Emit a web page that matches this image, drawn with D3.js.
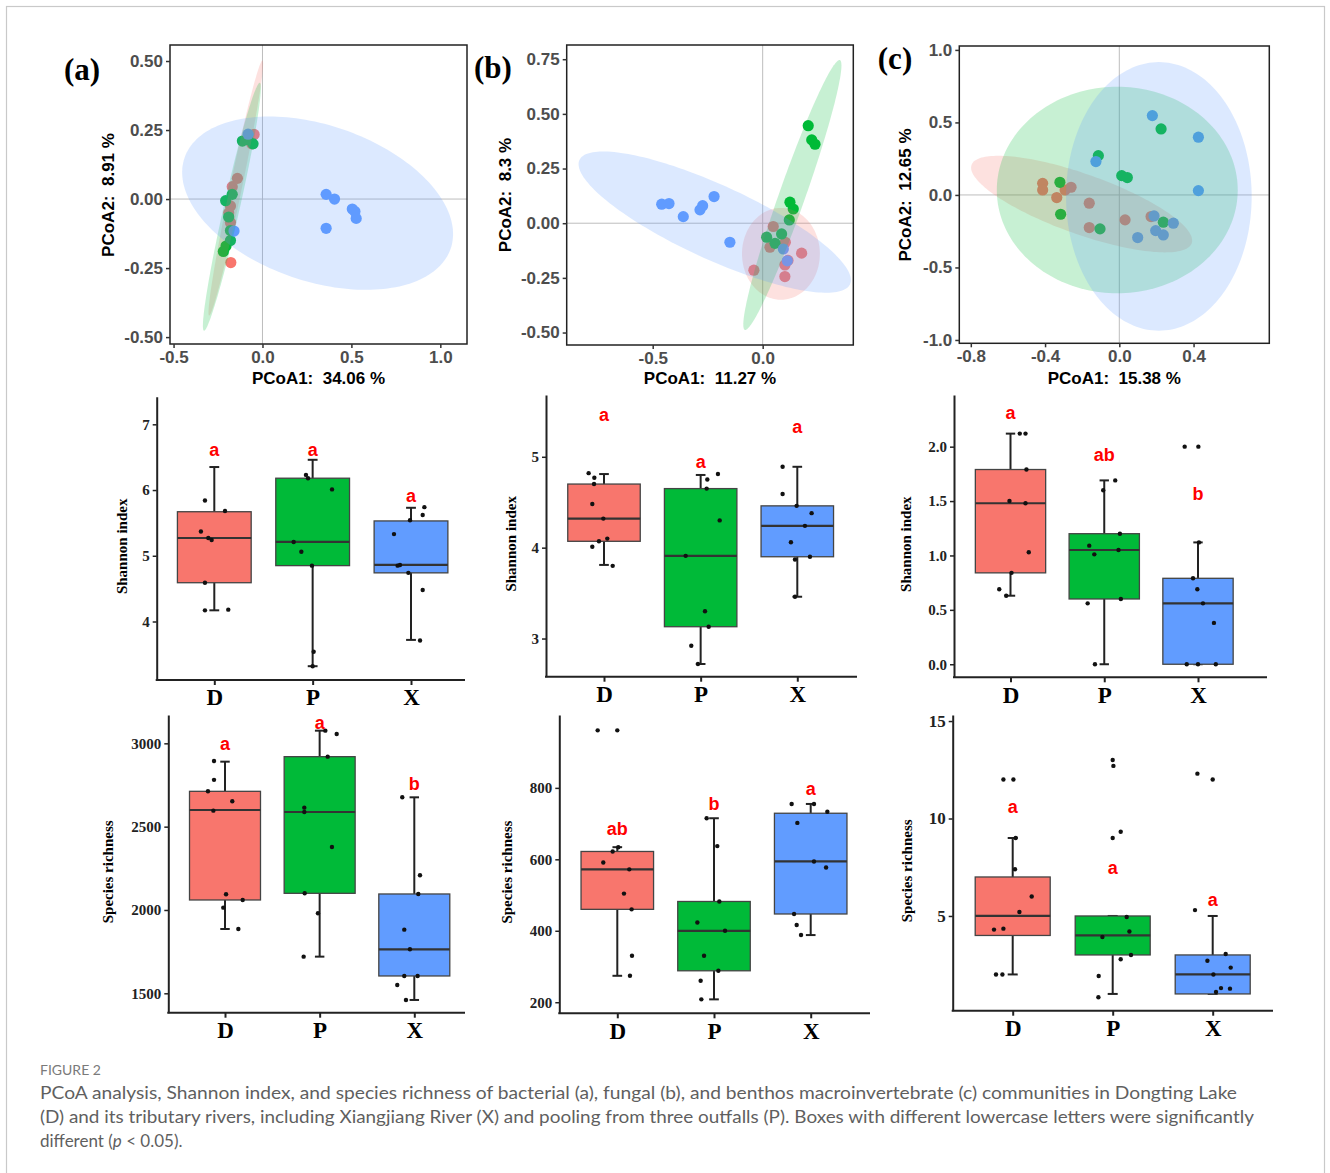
<!DOCTYPE html>
<html>
<head>
<meta charset="utf-8">
<script src="https://d3js.org/d3.v7.min.js"></script>
<style>
body { margin: 0; background: #fff; }
svg { display: block; }
</style>
</head>
<body>
<svg id="fig" width="1330" height="1173"></svg>
<script>
// groups and colours
var groups = ["D", "P", "X"];
var groupColors = ["#F8766D", "#00BA38", "#619CFF"];

// ---- PCoA scores (PCoA1, PCoA2) ----
// (a) bacteria
var pcoaA_D = [[-0.047, 0.234], [-0.06, 0.2], [-0.141, 0.075], [-0.17, 0.045], [-0.18, -0.025], [-0.19, -0.05], [-0.18, -0.085], [-0.178, -0.23]];
var pcoaA_P = [[-0.113, 0.21], [-0.053, 0.2], [-0.085, 0.215], [-0.17, 0.017], [-0.207, -0.006], [-0.19, -0.065], [-0.18, -0.114], [-0.18, -0.15], [-0.205, -0.17], [-0.22, -0.19]];
var pcoaA_X = [[-0.081, 0.235], [-0.16, -0.116], [0.358, 0.017], [0.405, 0.0], [0.505, -0.036], [0.52, -0.045], [0.527, -0.07], [0.358, -0.106]];
// (b) fungi
var pcoaB_D = [[0.048, -0.015], [0.033, -0.11], [0.103, -0.087], [0.101, -0.191], [0.177, -0.137], [-0.04, -0.215], [0.101, -0.244], [0.115, -0.17]];
var pcoaB_P = [[0.207, 0.446], [0.223, 0.381], [0.238, 0.361], [0.124, 0.096], [0.139, 0.065], [0.121, 0.015], [0.018, -0.064], [0.086, -0.049], [0.056, -0.092]];
var pcoaB_X = [[-0.459, 0.087], [-0.426, 0.09], [-0.361, 0.03], [-0.285, 0.061], [-0.273, 0.08], [-0.221, 0.122], [-0.149, -0.087], [0.094, -0.118], [0.112, -0.172]];
// (c) benthos
var pcoaC_D = [[-0.413, 0.08], [-0.413, 0.034], [-0.337, -0.018], [-0.292, 0.034], [-0.26, 0.053], [-0.162, -0.057], [-0.162, -0.225], [0.031, -0.172], [0.171, -0.149]];
var pcoaC_P = [[0.225, 0.455], [-0.113, 0.271], [0.013, 0.133], [0.043, 0.12], [-0.32, 0.087], [-0.316, -0.133], [-0.104, -0.234], [0.237, -0.188]];
var pcoaC_X = [[0.178, 0.547], [0.426, 0.398], [0.426, 0.03], [-0.126, 0.23], [0.187, -0.145], [0.196, -0.246], [0.237, -0.276], [0.291, -0.195], [0.099, -0.294]];

// confidence ellipses: centre, then two conjugate semi-axis vectors (data units)
var ellA = [[-0.15, 0.04, 0.15, 0.462, 0.033, -0.0045], [-0.172, -0.028, 0.157, 0.449, 0.044, -0.0063], [0.31, -0.015, 0.748, -0.165, -0.1435, -0.267]];
var ellB = [[0.083, -0.14, 0.177, 0, 0, -0.21], [0.135, 0.129, 0.216, 0.617, 0.056, -0.0197], [-0.218, 0.005, 0.615, -0.284, -0.07, -0.154]];
var ellC = [[-0.203, -0.063, 0.593, -0.27, -0.054, -0.195], [-0.011, 0.034, 0.649, 0, 0, 0.712], [0.213, -0.01, 0.5, 0, 0, 0.926]];

var pcoaTitles = [["PCoA1:  34.06 %", "PCoA2:  8.91 %"], ["PCoA1:  11.27 %", "PCoA2:  8.3 %"], ["PCoA1:  15.38 %", "PCoA2:  12.65 %"]];
var pcoaXTicks = [[-0.5, 0, 0.5, 1.0], [-0.5, 0.0], [-0.8, -0.4, 0, 0.4]];
var pcoaYTicks = [[-0.5, -0.25, 0, 0.25, 0.5], [-0.5, -0.25, 0, 0.25, 0.5, 0.75], [-1, -0.5, 0, 0.5, 1]];

// ---- box plots: [lower whisker, q1, median, q3, upper whisker] ----
var shanA = [[4.17, 4.59, 5.27, 5.67, 6.35], [3.32, 4.85, 5.21, 6.18, 6.46], [3.72, 4.74, 4.86, 5.53, 5.73]];
var shanB = [[3.81, 4.07, 4.32, 4.70, 4.81], [2.72, 3.13, 3.91, 4.65, 4.80], [3.46, 3.90, 4.24, 4.46, 4.89]];
var shanC = [[0.63, 0.84, 1.48, 1.79, 2.12], [0, 0.60, 1.05, 1.20, 1.69], [0, 0, 0.56, 0.79, 1.12]];
var richA = [[1886, 2060, 2600, 2712, 2890], [1720, 2100, 2588, 2920, 3076], [1460, 1604, 1764, 2096, 2676]];
var richB = [[274, 460, 572, 622, 634], [208, 288, 400, 482, 715], [388, 447, 594, 729, 755]];
var richC = [[2, 4, 5, 7, 9], [1, 3, 4, 5, 5], [1, 1, 2, 3, 5]];

// sample values [value, jitter in category steps]
var shanA_pts = [
	[[5.84, -0.095], [5.68, 0.109], [5.37, -0.136], [5.27, -0.061], [5.24, -0.027], [4.59, -0.095], [4.17, -0.095], [4.18, 0.142]],
	[[6.23, -0.068], [6.18, -0.047], [6.01, 0.197], [5.21, -0.193], [5.06, -0.115], [4.85, -0.007], [3.54, 0.01], [3.32, 0.0]],
	[[5.33, -0.173], [5.74, 0.136], [5.62, 0.119], [5.54, -0.01], [4.85, -0.136], [4.86, -0.112], [4.74, -0.027], [4.48, 0.119], [3.71, 0.092]]];
var shanB_pts = [
	[[4.82, -0.159], [4.77, -0.1], [4.70, -0.103], [4.48, -0.121], [4.32, -0.007], [4.10, 0.034], [4.07, -0.052], [4.01, -0.121], [3.80, 0.09]],
	[[4.75, 0.069], [4.81, 0.179], [4.65, 0.062], [4.30, 0.197], [3.91, -0.155], [3.30, 0.045], [3.13, 0.083], [2.92, -0.097], [2.72, -0.028]],
	[[4.89, -0.152], [4.59, -0.152], [4.46, -0.007], [4.38, 0.148], [4.24, 0.079], [4.06, -0.066], [3.87, -0.024], [3.90, 0.131], [3.46, -0.024]]];
var shanC_pts = [
	[[2.12, 0.099], [2.12, 0.16], [1.79, 0.17], [1.50, -0.011], [1.48, 0.16], [1.03, 0.195], [0.84, 0.011], [0.69, -0.12], [0.63, -0.046]],
	[[1.69, 0.117], [1.60, -0.011], [1.20, 0.167], [1.09, -0.16], [1.01, -0.106], [1.05, 0.152], [0.56, -0.177], [0.60, 0.177], [0.0, -0.099]],
	[[2.0, -0.142], [2.0, 0.004], [1.12, 0.01], [0.79, -0.053], [0.69, -0.007], [0.56, 0.053], [0.38, 0.17], [0, -0.12], [0, 0.0], [0, 0.19]]];
var richA_pts = [
	[[2894, -0.116], [2781, -0.116], [2712, -0.18], [2652, 0.077], [2596, -0.123], [2094, 0.011], [2060, 0.187], [2014, -0.018], [1886, 0.141]],
	[[3056, 0.18], [3076, 0.06], [2920, 0.085], [2614, -0.162], [2588, -0.162], [2378, 0.13], [2100, -0.158], [1980, -0.018], [1720, -0.169]],
	[[2676, -0.127], [2208, 0.06], [2096, 0.042], [1882, -0.106], [1764, -0.046], [1604, -0.106], [1604, 0.035], [1550, -0.18], [1460, -0.088]]];
var richB_pts = [
	[[961, -0.203], [961, 0], [634, 0.01], [622, -0.048], [591, -0.145], [572, 0.124], [504, 0.069], [460, 0.148], [330, 0.152], [274, 0.131]],
	[[715, -0.076], [637, 0.034], [482, 0.055], [423, -0.172], [400, 0.114], [330, -0.103], [288, 0.045], [260, -0.138], [208, -0.131]],
	[[755, -0.197], [755, 0.034], [733, 0.172], [702, -0.138], [594, 0.034], [577, 0.159], [447, -0.172], [416, -0.145], [388, -0.1]]];
var richC_pts = [
	[[12, -0.093], [12, 0.007], [9, 0.03], [7.4, 0.023], [6, 0.19], [5.2, 0.067], [4.35, -0.093], [4.3, -0.187], [2, -0.167], [2, -0.103]],
	[[13, 0], [12.7, 0.007], [9, 0], [9.32, 0.08], [4.95, 0.14], [4.2, 0.167], [3.92, -0.103], [3, 0.183], [2.78, 0.08], [1.92, -0.14], [0.83, -0.143]],
	[[12.3, -0.153], [12, 0], [5.3, -0.177], [3.05, 0.13], [2.7, -0.053], [2.35, 0.18], [2, 0.007], [1.3, 0.083], [1.27, 0.173], [1.1, 0.033]]];

// significance letters and the value they sit at
var lettersShan = [["a", "a", "a"], ["a", "a", "a"], ["a", "ab", "b"]];
var letterYShan = [[6.61, 6.61, 5.91], [5.46, 4.95, 5.33], [2.31, 1.93, 1.57]];
var lettersRich = [["a", "a", "b"], ["ab", "b", "a"], ["a", "a", "a"]];
var letterYRich = [[2998, 3122, 2756], [685, 755, 799], [10.6, 7.5, 5.82]];

var captionLines = [
	"PCoA analysis, Shannon index, and species richness of bacterial (a), fungal (b), and benthos macroinvertebrate (c) communities in Dongting Lake",
	"(D) and its tributary rivers, including Xiangjiang River (X) and pooling from three outfalls (P). Boxes with different lowercase letters were significantly"
];

var svg = d3.select("#fig");
var SANS = "'Liberation Sans', Arial, sans-serif";
var SERIF = "'Liberation Serif', 'Times New Roman', serif";

function fmt(f) {
	return function (v) { return d3.format(f)(v).replace("\u2212", "-"); };
}

// frame round the figure
svg.append("rect")
	.attr("x", 6.5).attr("y", 6.5)
	.attr("width", 1318).attr("height", 1200)
	.attr("fill", "none")
	.attr("stroke", "#c9c9c9")
	.attr("stroke-width", 1.2);

function drawPcoa(cfg) {
	var x = d3.scaleLinear().domain(cfg.xDom).range([cfg.x0, cfg.x1]);
	var y = d3.scaleLinear().domain(cfg.yDom).range([cfg.y1, cfg.y0]);
	var g = svg.append("g");

	g.append("clipPath").attr("id", "clip" + cfg.id)
		.append("rect")
		.attr("x", cfg.x0).attr("y", cfg.y0)
		.attr("width", cfg.x1 - cfg.x0).attr("height", cfg.y1 - cfg.y0);
	var inner = g.append("g").attr("clip-path", "url(#clip" + cfg.id + ")");

	// zero lines
	inner.append("line")
		.attr("x1", x(0)).attr("x2", x(0)).attr("y1", cfg.y0).attr("y2", cfg.y1)
		.attr("stroke", "#bdbdbd").attr("stroke-width", 1);
	inner.append("line")
		.attr("x1", cfg.x0).attr("x2", cfg.x1).attr("y1", y(0)).attr("y2", y(0))
		.attr("stroke", "#bdbdbd").attr("stroke-width", 1);

	cfg.points.forEach(function (pts, i) {
		inner.selectAll(null).data(pts).enter().append("circle")
			.attr("cx", function (d) { return x(d[0]); })
			.attr("cy", function (d) { return y(d[1]); })
			.attr("r", 5.6)
			.attr("fill", groupColors[i]);
	});

	var line = d3.line().curve(d3.curveLinearClosed);
	var ts = d3.range(0, 2 * Math.PI, Math.PI / 90);
	cfg.ellipses.forEach(function (e, i) {
		var pts = ts.map(function (t) {
			return [x(e[0] + e[2] * Math.cos(t) + e[4] * Math.sin(t)),
				y(e[1] + e[3] * Math.cos(t) + e[5] * Math.sin(t))];
		});
		inner.append("path")
			.attr("d", line(pts))
			.attr("fill", groupColors[i])
			.attr("fill-opacity", 0.22)
			.attr("stroke", "none");
	});

	g.append("rect")
		.attr("x", cfg.x0).attr("y", cfg.y0)
		.attr("width", cfg.x1 - cfg.x0).attr("height", cfg.y1 - cfg.y0)
		.attr("fill", "none").attr("stroke", "#222").attr("stroke-width", 1.5);

	var ax = g.append("g")
		.attr("transform", "translate(0," + cfg.y1 + ")")
		.call(d3.axisBottom(x).tickValues(cfg.xTicks).tickFormat(fmt(".1f")).tickSize(4).tickPadding(3));
	var ay = g.append("g")
		.attr("transform", "translate(" + cfg.x0 + ",0)")
		.call(d3.axisLeft(y).tickValues(cfg.yTicks).tickFormat(fmt(cfg.yFmt)).tickSize(4).tickPadding(3));
	[ax, ay].forEach(function (a) {
		a.select(".domain").remove();
		a.selectAll(".tick line").attr("stroke", "#333").attr("stroke-width", 1.5);
		a.selectAll(".tick text")
			.attr("fill", "#4d4d4d")
			.style("font-family", SANS)
			.style("font-weight", "bold")
			.style("font-size", "17px");
	});

	g.append("text")
		.attr("x", (cfg.x0 + cfg.x1) / 2).attr("y", 378).attr("dy", "0.35em")
		.attr("text-anchor", "middle")
		.style("white-space", "pre")
		.style("font-family", SANS).style("font-weight", "bold").style("font-size", "17px")
		.text(cfg.titles[0]);
	g.append("text")
		.attr("transform", "translate(" + cfg.yLabX + ",195) rotate(-90)")
		.attr("dy", "0.35em")
		.attr("text-anchor", "middle")
		.style("white-space", "pre")
		.style("font-family", SANS).style("font-weight", "bold").style("font-size", "17px")
		.text(cfg.titles[1]);

	g.append("text")
		.attr("x", cfg.tagX).attr("y", cfg.tagY)
		.attr("text-anchor", "middle")
		.style("font-family", SERIF).style("font-weight", "bold").style("font-size", "31px")
		.text(cfg.tag);
}

drawPcoa({ id: "a", tag: "(a)", tagX: 82, tagY: 80, x0: 170, x1: 467, y0: 45, y1: 344,
	xDom: [-0.52, 1.15], yDom: [-0.525, 0.558], xTicks: pcoaXTicks[0], yTicks: pcoaYTicks[0], yFmt: ".2f",
	points: [pcoaA_D, pcoaA_P, pcoaA_X], ellipses: ellA, titles: pcoaTitles[0], yLabX: 108 });
drawPcoa({ id: "b", tag: "(b)", tagX: 493, tagY: 78, x0: 566.7, x1: 853.3, y0: 45, y1: 345,
	xDom: [-0.891, 0.412], yDom: [-0.557, 0.815], xTicks: pcoaXTicks[1], yTicks: pcoaYTicks[1], yFmt: ".2f",
	points: [pcoaB_D, pcoaB_P, pcoaB_X], ellipses: ellB, titles: pcoaTitles[1], yLabX: 505 });
drawPcoa({ id: "c", tag: "(c)", tagX: 895, tagY: 69, x0: 959.3, x1: 1269.3, y0: 46, y1: 343.3,
	xDom: [-0.862, 0.808], yDom: [-1.023, 1.027], xTicks: pcoaXTicks[2], yTicks: pcoaYTicks[2], yFmt: ".1f",
	points: [pcoaC_D, pcoaC_P, pcoaC_X], ellipses: ellC, titles: pcoaTitles[2], yLabX: 905 });

function drawBox(cfg) {
	var x = d3.scalePoint().domain(groups).range(cfg.cx);
	var step = x.step();
	var bw = step * 0.75;
	var cap = step * 0.1;
	var y = d3.scaleLinear().domain(cfg.yDom).range([cfg.bottom, cfg.top]);
	var g = svg.append("g");

	groups.forEach(function (gr, i) {
		var s = cfg.stats[i];
		var cx = x(gr);
		g.append("line")
			.attr("x1", cx).attr("x2", cx).attr("y1", y(s[0])).attr("y2", y(s[4]))
			.attr("stroke", "#222").attr("stroke-width", 2);
		[s[0], s[4]].forEach(function (v) {
			g.append("line")
				.attr("x1", cx - cap / 2).attr("x2", cx + cap / 2).attr("y1", y(v)).attr("y2", y(v))
				.attr("stroke", "#222").attr("stroke-width", 2);
		});
		g.append("rect")
			.attr("x", cx - bw / 2).attr("width", bw)
			.attr("y", y(s[3])).attr("height", y(s[1]) - y(s[3]))
			.attr("fill", groupColors[i])
			.attr("stroke", "#444").attr("stroke-width", 1.3);
		g.append("line")
			.attr("x1", cx - bw / 2).attr("x2", cx + bw / 2).attr("y1", y(s[2])).attr("y2", y(s[2]))
			.attr("stroke", "#333").attr("stroke-width", 2.2);
		g.selectAll(null).data(cfg.points[i]).enter().append("circle")
			.attr("cx", function (d) { return cx + d[1] * step; })
			.attr("cy", function (d) { return y(d[0]); })
			.attr("r", 2.2)
			.attr("fill", "#111");
		g.append("text")
			.attr("x", cx).attr("y", y(cfg.letterY[i])).attr("dy", "0.35em")
			.attr("text-anchor", "middle")
			.attr("fill", "#ff0000")
			.style("font-family", SANS).style("font-weight", "bold").style("font-size", "18px")
			.text(cfg.letters[i]);
	});

	var ay = g.append("g")
		.attr("transform", "translate(" + cfg.left + ",0)")
		.call(d3.axisLeft(y).tickValues(cfg.ticks).tickFormat(fmt(cfg.fmt)).tickSize(4).tickPadding(3).tickSizeOuter(0));
	ay.select(".domain").attr("stroke", "#222").attr("stroke-width", 2);
	ay.selectAll(".tick line").attr("stroke", "#222").attr("stroke-width", 1.5);
	ay.selectAll(".tick text")
		.attr("fill", "#222")
		.style("font-family", SERIF).style("font-weight", "bold").style("font-size", cfg.tickSize + "px");

	var ax = g.append("g")
		.attr("transform", "translate(0," + cfg.bottom + ")")
		.call(d3.axisBottom(x).tickSize(5).tickPadding(4));
	ax.select(".domain").remove();
	ax.selectAll(".tick line").attr("stroke", "#222").attr("stroke-width", 2);
	ax.selectAll(".tick text")
		.attr("fill", "#000")
		.style("font-family", SERIF).style("font-weight", "bold").style("font-size", "23px");
	g.append("line")
		.attr("x1", cfg.left - 1).attr("x2", cfg.right).attr("y1", cfg.bottom).attr("y2", cfg.bottom)
		.attr("stroke", "#222").attr("stroke-width", 2);

	g.append("text")
		.attr("transform", "translate(" + cfg.labX + "," + ((cfg.top + cfg.bottom) / 2 + 8) + ") rotate(-90)")
		.attr("dy", "0.35em")
		.attr("text-anchor", "middle")
		.style("font-family", SERIF).style("font-weight", "bold").style("font-size", "15px")
		.text(cfg.label);
}

drawBox({ left: 156.7, right: 465, top: 396.7, bottom: 680, cx: [214.3, 411], yDom: [3.11, 7.42],
	ticks: [4, 5, 6, 7], fmt: "d", tickSize: 15, stats: shanA, points: shanA_pts,
	letters: lettersShan[0], letterY: letterYShan[0], label: "Shannon index", labX: 122 });
drawBox({ left: 546, right: 857, top: 395, bottom: 676.7, cx: [604, 797.3], yDom: [2.58, 5.68],
	ticks: [3, 4, 5], fmt: "d", tickSize: 15, stats: shanB, points: shanB_pts,
	letters: lettersShan[1], letterY: letterYShan[1], label: "Shannon index", labX: 511 });
drawBox({ left: 954, right: 1267, top: 395, bottom: 677.3, cx: [1010.5, 1198], yDom: [-0.12, 2.475],
	ticks: [0, 0.5, 1, 1.5, 2], fmt: ".1f", tickSize: 15, stats: shanC, points: shanC_pts,
	letters: lettersShan[2], letterY: letterYShan[2], label: "Shannon index", labX: 906 });
drawBox({ left: 168.3, right: 465, top: 715, bottom: 1012.7, cx: [225, 414.3], yDom: [1383.6, 3170],
	ticks: [1500, 2000, 2500, 3000], fmt: "d", tickSize: 15, stats: richA, points: richA_pts,
	letters: lettersRich[0], letterY: letterYRich[0], label: "Species richness", labX: 108 });
drawBox({ left: 559.3, right: 870, top: 715, bottom: 1013.3, cx: [617.3, 810.7], yDom: [169, 1004],
	ticks: [200, 400, 600, 800], fmt: "d", tickSize: 15, stats: richB, points: richB_pts,
	letters: lettersRich[1], letterY: letterYRich[1], label: "Species richness", labX: 507 });
drawBox({ left: 952.7, right: 1273, top: 715, bottom: 1010.7, cx: [1012.7, 1212.7], yDom: [0.14, 15.31],
	ticks: [5, 10, 15], fmt: "d", tickSize: 17, stats: richC, points: richC_pts,
	letters: lettersRich[2], letterY: letterYRich[2], label: "Species richness", labX: 907 });

// caption
var cap = svg.append("g").style("font-family", "Lato, 'Open Sans', sans-serif").attr("fill", "#5f5f5f");
cap.append("text").attr("x", 40).attr("y", 1075).style("font-size", "14px").attr("fill", "#7a7a7a")
	.text("FIGURE 2");
cap.append("text").attr("x", 40).attr("y", 1099).style("font-size", "17px")
	.attr("textLength", 1197).attr("lengthAdjust", "spacingAndGlyphs")
	.text(captionLines[0]);
cap.append("text").attr("x", 40).attr("y", 1123).style("font-size", "17px")
	.attr("textLength", 1214).attr("lengthAdjust", "spacingAndGlyphs")
	.text(captionLines[1]);
var l3 = cap.append("text").attr("x", 40).attr("y", 1147).style("font-size", "17px");
l3.append("tspan").text("different (");
l3.append("tspan").style("font-style", "italic").text("p");
l3.append("tspan").text(" < 0.05).");
</script>
</body>
</html>
